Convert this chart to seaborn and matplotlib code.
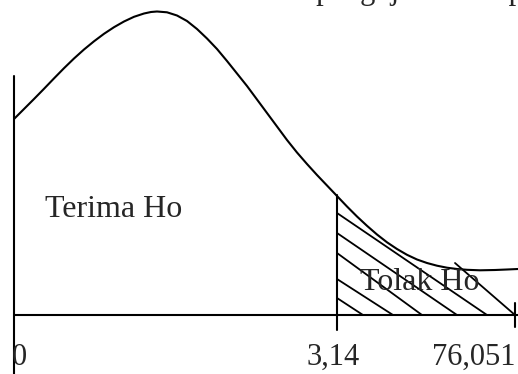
import matplotlib
matplotlib.use("Agg")
import matplotlib.pyplot as plt
import seaborn as sns
import pandas as pd

# Density curve of the F distribution (schematic units, baseline at 0)
curve_x = [0, 10, 20, 30, 40, 50, 60, 70, 80, 90, 100, 110, 120, 130, 137, 143,
           153, 163, 173, 183, 193, 203, 213, 223, 233, 243, 253, 263, 273, 283,
           293, 303, 313, 323, 333, 343, 353, 363, 373, 383, 393, 403, 413, 423,
           433, 443, 453, 466, 481, 493, 504]
curve_y = [196, 206, 216, 226.2, 236.6, 246.8, 256.5, 265.5, 273.7, 281.2, 287.8,
           293.5, 298.2, 301.5, 303, 303.5, 302.7, 299.5, 294, 286, 276.5, 266,
           254, 241.5, 229, 215.5, 202, 188.5, 175, 162.5, 151, 140, 129.5, 119,
           108.5, 98.5, 89.2, 80.5, 72.7, 66, 60.2, 55.5, 52, 49.3, 47.3, 46,
           45.2, 44.7, 45, 45.5, 46]

# Axis ticks: origin, F table value, F computed value
tick_pos = [0, 323, 501]
tick_labels = ["0", "3,14", "76,051"]

# Hatching of the rejection region (start and end of each stroke)
hatch_x0 = [323, 323, 323, 323, 323, 441]
hatch_y0 = [102, 82, 62, 36, 17, 52]
hatch_x1 = [473, 443, 408, 379, 349, 501]
hatch_y1 = [0, 0, 0, 0, 0, 0]

region_labels = ["Terima Ho", "Tolak Ho"]
caption_left = "Gambar kurva distribusi F dari"
caption_right = "atas pengujian Hadapan"

sns.set_style("white")
plt.rcParams["font.family"] = ["Liberation Serif", "DejaVu Serif"]

fig = plt.figure(figsize=(5.18, 3.74), dpi=100)
ax = fig.add_axes([0, 0, 1, 1])
ax.set_xlim(-14, 504)
ax.set_ylim(-59, 315)
ax.axis("off")

df = pd.DataFrame({"x": curve_x, "y": curve_y})
sns.lineplot(data=df, x="x", y="y", sort=False, estimator=None,
             color="black", lw=1.5, ax=ax)

# Vertical axis and horizontal baseline
ax.plot([tick_pos[0], tick_pos[0]], [-59, 239], color="black", lw=1.5)
ax.plot([0, 504], [0, 0], color="black", lw=1.5)
# Critical value line and right end tick
ax.plot([tick_pos[1], tick_pos[1]], [-15, 120], color="black", lw=1.5)
ax.plot([tick_pos[2], tick_pos[2]], [-12, 12], color="black", lw=1.5)

for x0, y0, x1, y1 in zip(hatch_x0, hatch_y0, hatch_x1, hatch_y1):
    ax.plot([x0, x1], [y0, y1], color="black", lw=1.3)

fs = 22
ax.text(tick_pos[0] - 2, -50, tick_labels[0], ha="left", va="baseline", fontsize=fs)
ax.text(tick_pos[1] - 4, -50, tick_labels[1], ha="center", va="baseline", fontsize=fs)
ax.text(tick_pos[2], -50, tick_labels[2], ha="right", va="baseline", fontsize=fs)

ax.text(31, 98, region_labels[0], ha="left", va="baseline", fontsize=23)
ax.text(346, 25, region_labels[1], ha="left", va="baseline", fontsize=23)

# Caption line running off the top edge
ax.text(240, 316, caption_left, ha="right", va="baseline", fontsize=fs)
ax.text(247, 316, caption_right, ha="left", va="baseline", fontsize=fs)

fig.savefig("out.png", dpi=100)
